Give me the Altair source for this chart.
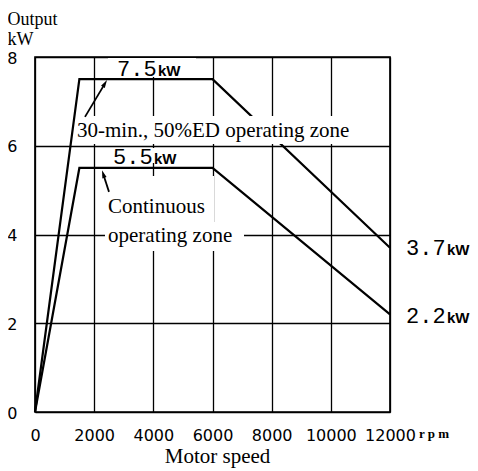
import math
import altair as alt
import pandas as pd

# ---- data ----
speed_rpm = [0, 1500, 6000, 12000]
output_30min_kw = [0, 7.5, 7.5, 3.7]
output_cont_kw = [0, 5.5, 5.5, 2.2]

x_ticks = [0, 2000, 4000, 6000, 8000, 10000, 12000]
y_ticks = [0, 2, 4, 6, 8]

rating_text = ["7.5", "5.5", "3.7", "2.2"]
rating_x = [2772, 2637, 12541, 12541]
rating_y = [7.58, 5.59, 3.54, 2.01]

zone_text = ["30-min., 50%ED operating zone", "Continuous", "operating zone"]
zone_x = [1420, 2468, 2468]
zone_y = [6.197, 4.484, 3.831]

# white boxes behind the labels
box_x = [2468, 1386, 2535, 2366, 2366]
box_x2 = [5442, 11054, 5341, 6051, 7065]
box_y = [7.55, 6.04, 5.61, 4.282, 3.628]
box_y2 = [7.977, 6.67, 5.95, 5.318, 4.282]

# annotation arrows (tail -> tip)
arrow_x = [1690, 2501]
arrow_y = [6.65, 4.96]
arrow_x2 = [2434, 2265]
arrow_y2 = [7.48, 5.45]

W, H = 355, 355
XMAX, YMAX = 12000, 8
sx, sy = W / XMAX, H / YMAX

X_SCALE = alt.Scale(domain=[0, XMAX], nice=False, zero=False)
Y_SCALE = alt.Scale(domain=[0, YMAX], nice=False, zero=False)

curves = pd.DataFrame({
    "x": speed_rpm + speed_rpm,
    "y": output_30min_kw + output_cont_kw,
    "series": ["30min"] * len(speed_rpm) + ["cont"] * len(speed_rpm),
    "o": list(range(len(speed_rpm))) * 2,
})

lines = alt.Chart(curves).mark_line(color="black", strokeWidth=2.2).encode(
    x=alt.X("x:Q", scale=X_SCALE, axis=alt.Axis(
        title="Motor speed", values=x_ticks, format="d", labelPadding=15,
        labelFlush=False, labelOverlap=False, titleFontSize=21,
        titleX=182, titleY=50, titleAlign="center", titleBaseline="alphabetic")),
    y=alt.Y("y:Q", scale=Y_SCALE, axis=alt.Axis(
        title=["Output", "kW"], values=y_ticks, format="d", labelPadding=18,
        labelOffset=1, titleAngle=0, titleAlign="left", titleBaseline="alphabetic",
        titleX=-28, titleY=-33, titleFontSize=18, titleLineHeight=20)),
    detail="series:N",
    order="o:Q",
)

boxes = pd.DataFrame({"x": box_x, "x2": box_x2, "y": box_y, "y2": box_y2})
rects = alt.Chart(boxes).mark_rect(color="white", opacity=1).encode(
    x=alt.X("x:Q", scale=X_SCALE), x2="x2:Q",
    y=alt.Y("y:Q", scale=Y_SCALE), y2="y2:Q",
)

ratings = pd.DataFrame({"x": rating_x, "y": rating_y, "t": rating_text})
rating_nums = alt.Chart(ratings).mark_text(
    font="Liberation Mono", fontSize=22, align="left", baseline="alphabetic", color="black"
).encode(x=alt.X("x:Q", scale=X_SCALE), y=alt.Y("y:Q", scale=Y_SCALE), text="t:N")
rating_units = alt.Chart(ratings).mark_text(
    font="Liberation Sans", fontWeight="bold", fontSize=15, align="left",
    baseline="alphabetic", color="black", dx=41
).encode(x=alt.X("x:Q", scale=X_SCALE), y=alt.Y("y:Q", scale=Y_SCALE), text=alt.value("kW"))

zones = pd.DataFrame({"x": zone_x, "y": zone_y, "t": zone_text})
zone_labels = alt.Chart(zones).mark_text(
    font="Liberation Serif", fontSize=21, align="left", baseline="alphabetic", color="black"
).encode(x=alt.X("x:Q", scale=X_SCALE), y=alt.Y("y:Q", scale=Y_SCALE), text="t:N")

# arrows: shafts end a bit before the tip, heads rotated along the shaft
shaft_rows, head_rows = [], []
for x1, y1, x2, y2 in zip(arrow_x, arrow_y, arrow_x2, arrow_y2):
    dxp, dyp = (x2 - x1) * sx, (y2 - y1) * sy
    L = math.hypot(dxp, dyp)
    ux, uy = dxp / L, dyp / L
    ang = math.degrees(math.atan2(ux, uy)) % 360
    shaft_rows.append({"x": x1, "y": y1, "x2": x2 - 5 * ux / sx, "y2": y2 - 5 * uy / sy})
    head_rows.append({"x": x2 - 4 * ux / sx, "y": y2 - 4 * uy / sy, "a": ang})

shafts = alt.Chart(pd.DataFrame(shaft_rows)).mark_rule(color="black", strokeWidth=1.8).encode(
    x=alt.X("x:Q", scale=X_SCALE), y=alt.Y("y:Q", scale=Y_SCALE), x2="x2:Q", y2="y2:Q")
heads = alt.Chart(pd.DataFrame(head_rows)).mark_point(
    shape="M0,-1L0.55,1L-0.55,1Z", filled=True, size=64, color="black", opacity=1, strokeWidth=0
).encode(x=alt.X("x:Q", scale=X_SCALE), y=alt.Y("y:Q", scale=Y_SCALE),
         angle=alt.Angle("a:Q", scale=None))

rpm = alt.Chart(pd.DataFrame({"x": [XMAX], "y": [0]})).mark_text(
    text="r p m", font="Liberation Serif", fontWeight="bold", fontSize=13,
    align="left", baseline="middle", dx=29, dy=22, color="black"
).encode(x=alt.X("x:Q", scale=X_SCALE), y=alt.Y("y:Q", scale=Y_SCALE))

chart = alt.layer(
    lines, rects, rating_nums, rating_units, zone_labels, shafts, heads, rpm
).properties(
    width=W, height=H,
    autosize=alt.AutoSizeParams(type="none"),
    padding={"left": 27, "top": 49, "right": 80, "bottom": 59},
    background="white",
).configure_view(
    stroke="black", strokeWidth=1.7
).configure_axis(
    grid=True, gridColor="black", gridWidth=1.3, gridOpacity=1,
    domain=False, ticks=False,
    labelColor="black", labelFont="DejaVu Sans", labelFontSize=16,
    titleColor="black", titleFont="Liberation Serif", titleFontWeight="normal",
)

chart.save("out.html", embed_options={"renderer": "svg", "actions": False})
